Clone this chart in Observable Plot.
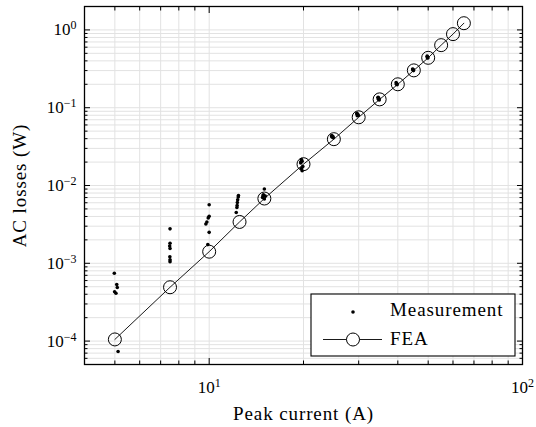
<!DOCTYPE html>
<html>
<head>
<meta charset="utf-8">
<script src="https://cdn.jsdelivr.net/npm/d3@7"></script>
<script src="https://cdn.jsdelivr.net/npm/@observablehq/plot@0.6"></script>
<style>
  body { margin: 0; background: #fff; }
  #chart svg { display: block; }
  #chart svg text { font-family: "Liberation Serif", "Times New Roman", serif; }
  #chart g[aria-label="x-axis label"] text,
  #chart g[aria-label="y-axis label"] text { font-size: 19px; letter-spacing: 0.9px; }
</style>
</head>
<body>
<div id="chart"></div>
<script>
// FEA: simulated AC losses (W) against peak current (A)
const feaCurrent = [5, 7.5, 10, 12.5, 15, 20, 25, 30, 35, 40, 45, 50, 55, 60, 65];
const feaLoss = [1.05e-4, 4.92e-4, 1.41e-3, 3.4e-3, 6.8e-3, 1.88e-2, 3.94e-2, 7.53e-2,
                 0.128, 0.2, 0.302, 0.438, 0.637, 0.883, 1.22];

// Measurement: repeated measured losses at each current step
const measCurrent = [
  4.98, 5.07, 5.09, 4.99, 5.04, 5.12,
  7.5, 7.5, 7.48, 7.5, 7.49, 7.5, 7.5,
  10.0, 10.0, 9.93, 9.83, 9.76, 10.0, 9.9,
  12.4, 12.38, 12.33, 12.3, 12.28, 12.26, 12.2,
  15.0, 14.9, 15.1, 14.8, 15.0, 14.85,
  19.7, 19.8, 19.6, 19.9, 19.7, 19.8, 19.6,
  24.6, 24.8, 24.7, 24.9, 24.6,
  29.6, 29.8, 29.7, 29.9, 29.6,
  34.6, 34.8, 34.7, 34.9, 34.6,
  39.5, 39.7, 39.6, 39.8,
  44.6, 44.8, 44.7, 44.9,
  49.6, 49.8, 49.7, 49.9
];
const measLoss = [
  7.44e-4, 5.33e-4, 4.88e-4, 4.30e-4, 4.12e-4, 7.35e-5,
  2.77e-3, 1.81e-3, 1.67e-3, 1.55e-3, 1.21e-3, 1.11e-3, 1.05e-3,
  5.66e-3, 4.01e-3, 3.83e-3, 3.40e-3, 3.20e-3, 2.50e-3, 1.74e-3,
  7.44e-3, 7.1e-3, 6.55e-3, 6.05e-3, 5.54e-3, 5.22e-3, 4.50e-3,
  9.0e-3, 7.6e-3, 7.3e-3, 7.0e-3, 6.7e-3, 7.4e-3,
  2.15e-2, 2.05e-2, 1.95e-2, 1.75e-2, 1.65e-2, 1.55e-2, 2.0e-2,
  4.4e-2, 4.3e-2, 4.2e-2, 4.1e-2, 4.25e-2,
  8.5e-2, 8.2e-2, 7.9e-2, 8.0e-2, 8.3e-2,
  0.136, 0.132, 0.128, 0.126, 0.134,
  0.21, 0.205, 0.20, 0.198,
  0.315, 0.31, 0.305, 0.30,
  0.46, 0.45, 0.44, 0.435
];

// Tick values
const xMajor = [10, 100];
const xMinor = [4, 5, 6, 7, 8, 9, 20, 30, 40, 50, 60, 70, 80, 90];
const yMajor = [1e-4, 1e-3, 1e-2, 1e-1, 1];
const yMinor = [];
for (let e = -5; e <= 0; e++) {
  for (let m = 2; m <= 9; m++) {
    const v = m * Math.pow(10, e);
    if (v >= 5e-5 && v <= 2) yMinor.push(v);
  }
}

const xLabel = "Peak current (A)";
const yLabel = "AC losses (W)";
const legendLabels = ["Measurement", "FEA"];

const fea = feaCurrent.map((c, i) => ({current: c, loss: feaLoss[i]}));
const meas = measCurrent.map((c, i) => ({current: c, loss: measLoss[i]}));

// Power-of-ten labels, split as "base^exponent"
const pow10 = d => "10^" + String(Math.round(Math.log10(d))).replace("-", "\u2212");

const serif = "'Liberation Serif', 'Times New Roman', serif";
const gridStyle = {stroke: "#e2e2e2", strokeOpacity: 1, strokeWidth: 1};
const innerTicks = (anchor, ticks, size) =>
  (anchor === "bottom" || anchor === "top")
    ? Plot.axisX({anchor, ticks, tickSize: -size, fill: "none", label: null, strokeWidth: 1})
    : Plot.axisY({anchor, ticks, tickSize: -size, fill: "none", label: null, strokeWidth: 1});

const chart = Plot.plot({
  width: 536,
  height: 427,
  marginLeft: 84,
  marginRight: 14,
  marginTop: 6,
  marginBottom: 63,
  style: {fontFamily: serif, fontSize: "17px", background: "#fff", color: "#000"},
  x: {type: "log", domain: [4, 100]},
  y: {type: "log", domain: [5e-5, 2]},
  marks: [
    Plot.gridX(xMinor.concat(xMajor), gridStyle),
    Plot.gridY(yMinor.concat(yMajor), gridStyle),
    Plot.line(fea, {x: "current", y: "loss", stroke: "#000", strokeWidth: 0.9}),
    Plot.dot(fea, {x: "current", y: "loss", r: 6.5, stroke: "#000", fill: "none", strokeWidth: 1}),
    Plot.dot(meas, {x: "current", y: "loss", r: 1.8, fill: "#000", stroke: "none"}),
    innerTicks("bottom", xMajor, 6), innerTicks("bottom", xMinor, 3.5),
    innerTicks("top", xMajor, 6), innerTicks("top", xMinor, 3.5),
    innerTicks("left", yMajor, 6), innerTicks("left", yMinor, 3.5),
    innerTicks("right", yMajor, 6), innerTicks("right", yMinor, 3.5),
    Plot.frame({stroke: "#000", strokeWidth: 1.3}),
    Plot.axisX({anchor: "bottom", ticks: xMajor, tickSize: 0, tickPadding: 16, tickFormat: pow10,
      label: xLabel, labelAnchor: "center", labelOffset: 55, labelArrow: "none"}),
    Plot.axisY({anchor: "left", ticks: yMajor, tickSize: 0, tickPadding: 8, tickFormat: pow10,
      label: yLabel, labelAnchor: "center", labelOffset: 72, labelArrow: "none"})
  ]
});

document.getElementById("chart").appendChild(chart);

// Typeset exponents as superscripts
const svg = d3.select(chart.tagName.toLowerCase() === "svg" ? chart : chart.querySelector("svg"));
svg.selectAll('g[aria-label="x-axis tick label"] text, g[aria-label="y-axis tick label"] text').each(function () {
  const t = d3.select(this);
  const [base, exp] = t.text().split("^");
  t.text(null);
  t.append("tspan").text(base);
  t.append("tspan").attr("dy", "-0.5em").attr("font-size", "12px").text(exp);
});

// Legend box in the lower right corner
const lg = svg.append("g").attr("font-family", serif)
  .attr("font-size", 19).attr("letter-spacing", "0.9px").attr("text-anchor", "start");
const lx = 311, ly = 294, lw = 204, lh = 62;
lg.append("rect").attr("x", lx).attr("y", ly).attr("width", lw).attr("height", lh)
  .attr("fill", "#fff").attr("stroke", "#000").attr("stroke-width", 1.1);
const symX = lx + 42;
lg.append("circle").attr("cx", symX).attr("cy", ly + 18).attr("r", 1.8).attr("fill", "#000");
lg.append("line").attr("x1", lx + 12).attr("x2", lx + 71).attr("y1", ly + 45.5).attr("y2", ly + 45.5)
  .attr("stroke", "#000").attr("stroke-width", 0.9);
lg.append("circle").attr("cx", symX).attr("cy", ly + 45.5).attr("r", 6.5)
  .attr("fill", "#fff").attr("stroke", "#000").attr("stroke-width", 1);
lg.append("text").attr("x", lx + 79).attr("y", ly + 22).text(legendLabels[0]);
lg.append("text").attr("x", lx + 79).attr("y", ly + 50.5).text(legendLabels[1]);
</script>
</body>
</html>
